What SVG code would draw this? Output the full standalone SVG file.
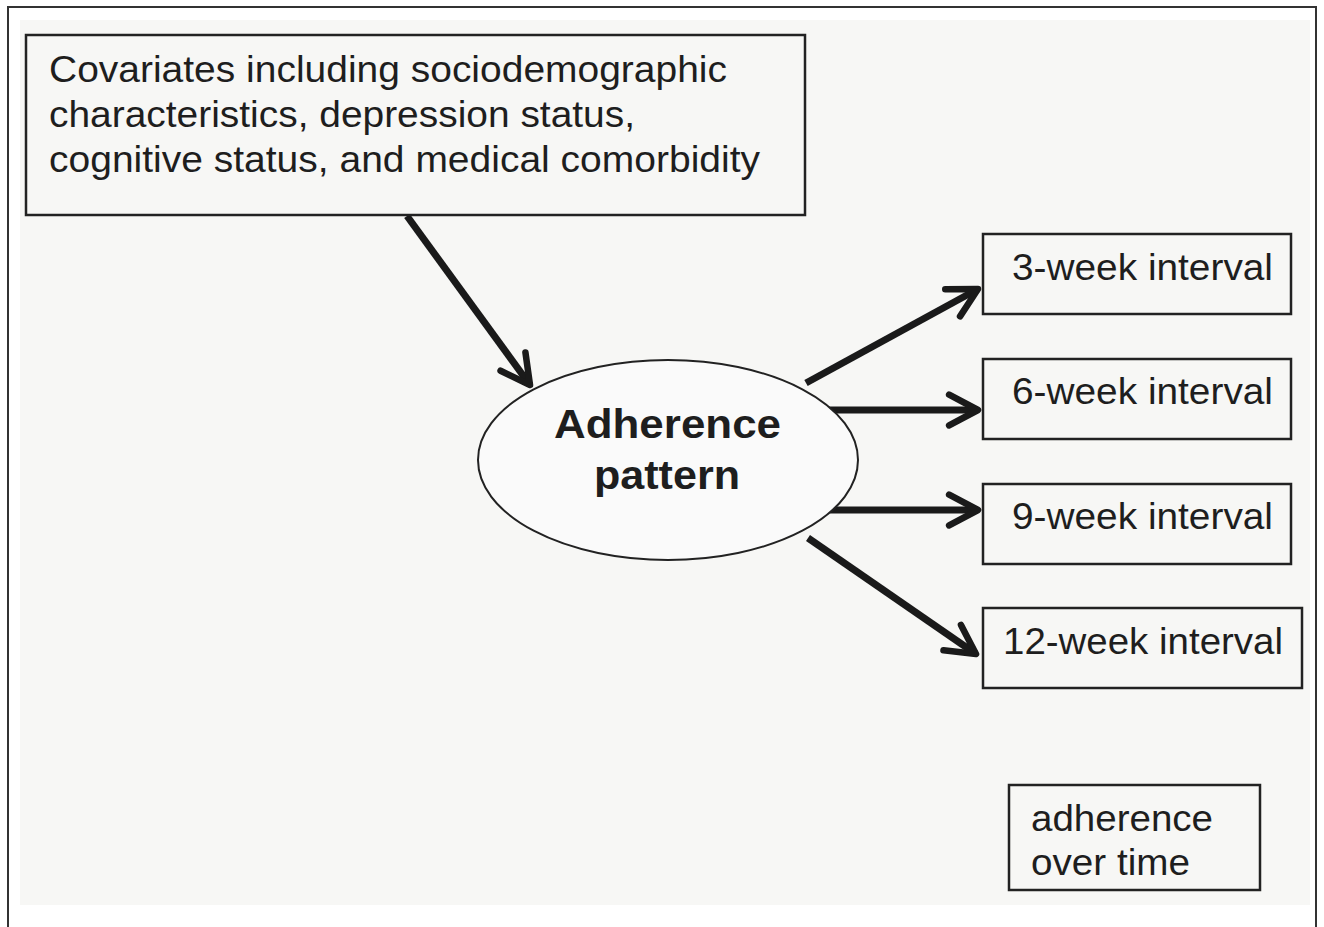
<svg xmlns="http://www.w3.org/2000/svg" width="1324" height="927" viewBox="0 0 1324 927">
<style>
.box{fill:none;stroke:#222;stroke-width:2.5}
.t{font-family:"Liberation Sans",Arial,sans-serif;font-size:37px;fill:#1e1e1e}
.b{font-weight:bold;font-size:40px}
.c{stroke:#1a1a1a;stroke-width:7;fill:none;marker-end:url(#ah)}
</style>
<defs>
<marker id="ah" viewBox="0 0 10 10" refX="9" refY="5" markerWidth="5.5" markerHeight="5.5" orient="auto" markerUnits="strokeWidth">
<path d="M1.5,1 L9,5 L1.5,9" fill="none" stroke="#1a1a1a" stroke-width="1.7" stroke-linecap="round" stroke-linejoin="round"/>
</marker>
</defs>
<rect x="0" y="0" width="1324" height="927" fill="#fff"/>
<rect x="20" y="20" width="1290" height="885" fill="#f7f7f5"/>
<path d="M8,927 V7 H1316 V927" fill="none" stroke="#333" stroke-width="2"/>
<g id="connectors">
<line class="c" x1="407" y1="216" x2="530" y2="385"/>
<line class="c" x1="806" y1="383" x2="978" y2="289"/>
<line class="c" x1="828" y1="410" x2="978" y2="410"/>
<line class="c" x1="830" y1="510" x2="978" y2="510"/>
<line class="c" x1="808" y1="538" x2="976" y2="654"/>
</g>
<g id="covariates">
<rect class="box" x="26" y="35" width="779" height="180" fill="#fafafa"/>
<text class="t" x="49" y="82" textLength="678" lengthAdjust="spacingAndGlyphs">Covariates including sociodemographic</text>
<text class="t" x="49" y="127" textLength="586" lengthAdjust="spacingAndGlyphs">characteristics, depression status,</text>
<text class="t" x="49" y="172" textLength="711" lengthAdjust="spacingAndGlyphs">cognitive status, and medical comorbidity</text>
</g>
<g id="adherence-pattern">
<ellipse cx="668" cy="460" rx="190" ry="100" fill="#fafafa" stroke="#222" stroke-width="2"/>
<text class="t b" x="554" y="438" textLength="227" lengthAdjust="spacingAndGlyphs">Adherence</text>
<text class="t b" x="594" y="489" textLength="146" lengthAdjust="spacingAndGlyphs">pattern</text>
</g>
<g id="week3">
<rect class="box" x="983" y="234" width="308" height="80"/>
<text class="t" x="1012" y="280" textLength="261" lengthAdjust="spacingAndGlyphs">3-week interval</text>
</g>
<g id="week6">
<rect class="box" x="983" y="359" width="308" height="80"/>
<text class="t" x="1012" y="404" textLength="261" lengthAdjust="spacingAndGlyphs">6-week interval</text>
</g>
<g id="week9">
<rect class="box" x="983" y="484" width="308" height="80"/>
<text class="t" x="1012" y="529" textLength="261" lengthAdjust="spacingAndGlyphs">9-week interval</text>
</g>
<g id="week12">
<rect class="box" x="983" y="608" width="319" height="80"/>
<text class="t" x="1003" y="654" textLength="280" lengthAdjust="spacingAndGlyphs">12-week interval</text>
</g>
<g id="legend">
<rect class="box" x="1009" y="785" width="251" height="105"/>
<text class="t" x="1031" y="831" textLength="182" lengthAdjust="spacingAndGlyphs">adherence</text>
<text class="t" x="1031" y="875" textLength="159" lengthAdjust="spacingAndGlyphs">over time</text>
</g>
</svg>
